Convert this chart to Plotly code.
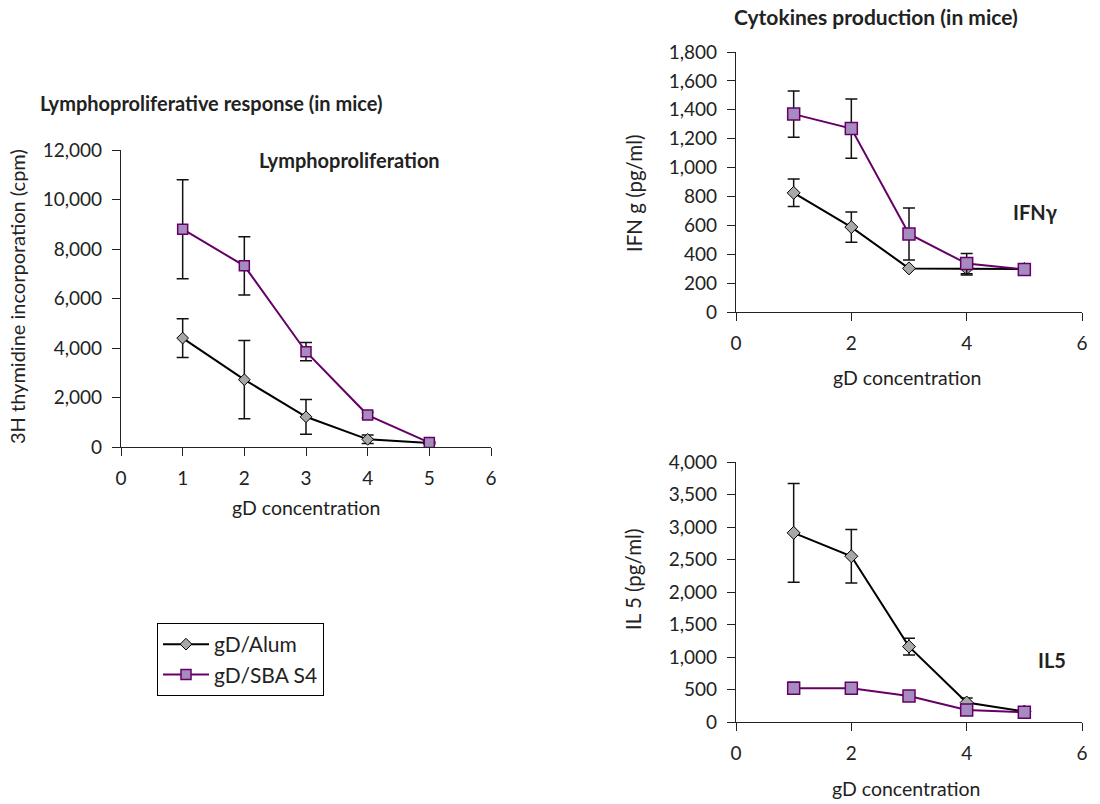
import plotly.graph_objects as go

# ---- data ----
conc = [1, 2, 3, 4, 5]

lympho_alum = [4400, 2720, 1220, 310, 160]
lympho_alum_err = [780, 1580, 700, 170, 40]
lympho_sba = [8800, 7320, 3850, 1290, 180]
lympho_sba_err = [2000, 1180, 370, 110, 40]

ifn_alum = [825, 588, 302, 302, 298]
ifn_alum_err = [95, 105, 0, 45, 15]
ifn_sba = [1370, 1270, 540, 335, 295]
ifn_sba_err = [160, 205, 180, 70, 15]

il5_alum = [2910, 2550, 1160, 300, 160]
il5_alum_err = [760, 410, 130, 70, 30]
il5_sba = [520, 520, 400, 185, 150]
il5_sba_err = [90, 65, 20, 20, 20]

series_names = ["gD/Alum", "gD/SBA S4"]

FONT = "Lato"
TXT = "#222222"
PURPLE_LINE = "#660066"
PURPLE_FILL = "#A68BBE"
GRAY_FILL = "#A8A8A8"

fig = go.Figure()

panels = [
    ("x", "y", lympho_alum, lympho_alum_err, lympho_sba, lympho_sba_err, True, 10, 9),
    ("x2", "y2", ifn_alum, ifn_alum_err, ifn_sba, ifn_sba_err, False, 12, 10),
    ("x3", "y3", il5_alum, il5_alum_err, il5_sba, il5_sba_err, False, 12, 10),
]

for xa, ya, a, ae, s, se, show, sq, dm in panels:
    fig.add_trace(go.Scatter(
        x=conc, y=a, xaxis=xa, yaxis=ya, name=series_names[0],
        legendgroup="alum", showlegend=show, mode="lines+markers",
        line=dict(color="black", width=2),
        marker=dict(symbol="diamond", size=dm, color=GRAY_FILL,
                    line=dict(color="black", width=1)),
        error_y=dict(type="data", array=ae, visible=True, color="#111111",
                     thickness=1.5, width=6),
    ))
    fig.add_trace(go.Scatter(
        x=conc, y=s, xaxis=xa, yaxis=ya, name=series_names[1],
        legendgroup="sba", showlegend=show, mode="lines+markers",
        line=dict(color=PURPLE_LINE, width=2),
        marker=dict(symbol="square", size=sq, color=PURPLE_FILL,
                    line=dict(color=PURPLE_LINE, width=1.5)),
        error_y=dict(type="data", array=se, visible=True, color="#111111",
                     thickness=1.5, width=6),
    ))

W, H = 1100, 804


def px_x(v):
    return v / W


def px_y(v):
    return 1 - v / H


axis_common = dict(
    showline=True, linecolor="#222222", linewidth=1.2,
    ticks="outside", ticklen=8, tickcolor="#222222", tickwidth=1.2,
    showgrid=False, zeroline=False, automargin=False,
    tickfont=dict(family=FONT, size=19, color=TXT),
    ticklabelstandoff=6,
)

fig.update_layout(
    width=W, height=H,
    margin=dict(l=0, r=0, t=0, b=0, autoexpand=False),
    paper_bgcolor="white", plot_bgcolor="white",
    font=dict(family=FONT, color=TXT),
    xaxis=dict(domain=[px_x(121), px_x(491)], range=[0, 6], dtick=1,
               anchor="y", **axis_common),
    yaxis=dict(domain=[px_y(447), px_y(150)], range=[0, 12000], dtick=2000,
               tickformat=",d", anchor="x", **axis_common),
    xaxis2=dict(domain=[px_x(736), px_x(1082)], range=[0, 6], dtick=2,
                anchor="y2", **axis_common),
    yaxis2=dict(domain=[px_y(312), px_y(52)], range=[0, 1800], dtick=200,
                tickformat=",d", anchor="x2", **axis_common),
    xaxis3=dict(domain=[px_x(736), px_x(1082)], range=[0, 6], dtick=2,
                anchor="y3", **axis_common),
    yaxis3=dict(domain=[px_y(722), px_y(462)], range=[0, 4000], dtick=500,
                tickformat=",d", anchor="x3", **axis_common),
    legend=dict(x=px_x(157), y=px_y(623), xanchor="left", yanchor="top",
                bordercolor="black", borderwidth=1, bgcolor="white",
                font=dict(family=FONT, size=21, color=TXT),
                tracegroupgap=0, itemwidth=46),
)


def ann(text, x, y, size=19, bold=False, angle=0):
    t = f"<b>{text}</b>" if bold else text
    fig.add_annotation(text=t, x=px_x(x), y=px_y(y), xref="paper", yref="paper",
                       showarrow=False, textangle=angle, xanchor="center",
                       yanchor="middle",
                       font=dict(family=FONT, size=size, color=TXT))


ann("Lymphoproliferative response (in mice)", 211, 103, size=20, bold=True)
ann("Lymphoproliferation", 349, 160, size=20, bold=True)
ann("Cytokines production (in mice)", 876, 16, size=21, bold=True)
ann("IFNγ", 1035, 212, size=20, bold=True)
ann("IL5", 1052, 660, size=20, bold=True)

ann("gD concentration", 306, 507, size=19.5)
ann("gD concentration", 907, 377, size=19.5)
ann("gD concentration", 906, 788, size=19.5)
ann("3H thymidine incorporation (cpm)", 17, 297, size=20, angle=-90)
ann("IFN g (pg/ml)", 634, 194, size=20.5, angle=-90)
ann("IL 5 (pg/ml)", 633, 580, size=20.5, angle=-90)

fig.write_html(
    "out.html",
    config={"displayModeBar": False},
    post_script="document.body.style.margin='0';document.body.style.padding='0';document.body.style.overflow='hidden';",
)
